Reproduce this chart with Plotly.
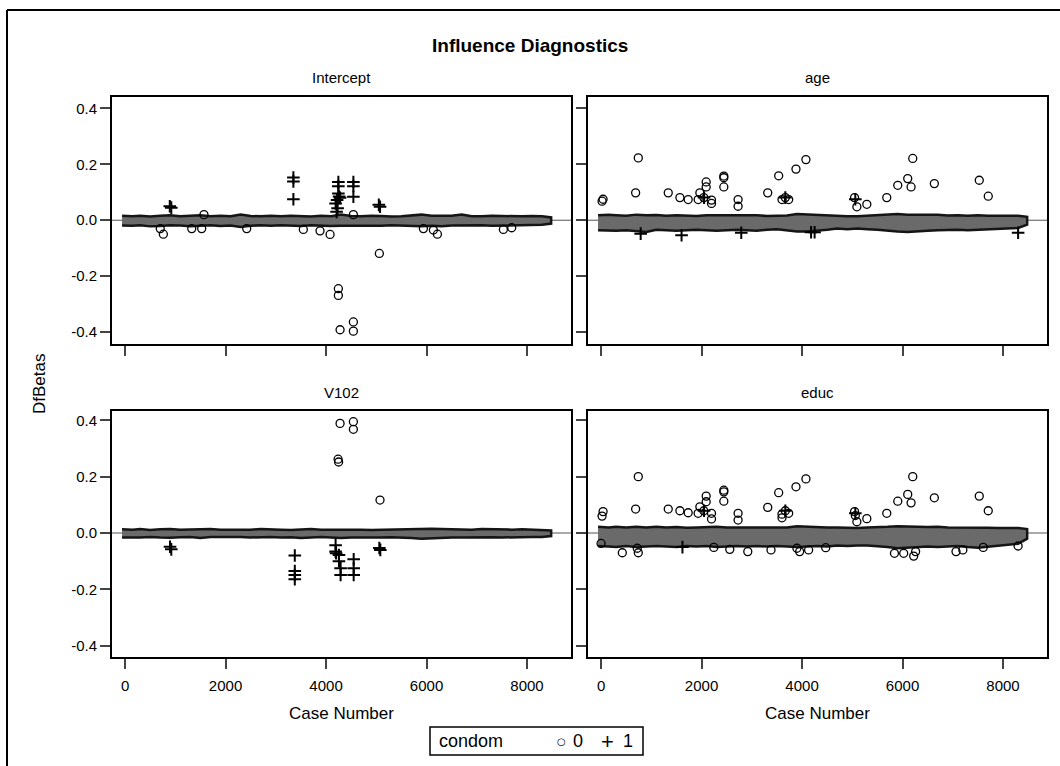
import plotly.graph_objects as go

# ---- DfBetas by case number, split by condom use (0 = open circle, 1 = plus) ----

# Case-number knots for the envelope of the dense cloud of cases near zero
band_x = [-60, 150, 300, 500, 700, 900, 1100, 1300, 1500, 1700, 1900, 2100, 2300, 2500, 2700, 2900,
          3100, 3300, 3500, 3700, 3900, 4100, 4300, 4500, 4700, 4900, 5100, 5300, 5500, 5700,
          5900, 6100, 6300, 6500, 6700, 6900, 7100, 7300, 7500, 7700, 7900, 8100, 8300, 8480]

intercept_hi = [0.016, 0.014, 0.016, 0.013, 0.016, 0.018, 0.014, 0.016, 0.018, 0.014, 0.016, 0.014, 0.020, 0.015,
                0.014, 0.016, 0.014, 0.016, 0.015, 0.013, 0.016, 0.014, 0.020, 0.015, 0.014, 0.016, 0.015, 0.013,
                0.014, 0.016, 0.020, 0.016, 0.015, 0.016, 0.020, 0.014, 0.014, 0.016, 0.015, 0.014, 0.014, 0.015,
                0.014, 0.010]
intercept_lo = [-0.019, -0.020, -0.018, -0.022, -0.021, -0.018, -0.019, -0.022, -0.020, -0.018, -0.021, -0.019,
                -0.024, -0.020, -0.018, -0.020, -0.018, -0.020, -0.021, -0.018, -0.019, -0.021, -0.020, -0.018,
                -0.019, -0.020, -0.020, -0.018, -0.019, -0.021, -0.022, -0.020, -0.022, -0.019, -0.020, -0.018,
                -0.018, -0.020, -0.020, -0.018, -0.018, -0.017, -0.016, -0.012]

age_hi = [0.018, 0.020, 0.018, 0.016, 0.020, 0.018, 0.019, 0.016, 0.018, 0.017, 0.015, 0.018, 0.018, 0.016,
          0.016, 0.018, 0.018, 0.015, 0.016, 0.017, 0.022, 0.020, 0.020, 0.016, 0.016, 0.014, 0.014, 0.016,
          0.016, 0.018, 0.022, 0.020, 0.020, 0.018, 0.020, 0.017, 0.018, 0.016, 0.018, 0.016, 0.016, 0.015,
          0.016, 0.012]
age_lo = [-0.036, -0.038, -0.038, -0.036, -0.040, -0.042, -0.034, -0.036, -0.038, -0.036, -0.034, -0.036,
          -0.038, -0.036, -0.034, -0.036, -0.038, -0.034, -0.032, -0.036, -0.040, -0.040, -0.038, -0.034,
          -0.030, -0.032, -0.030, -0.032, -0.034, -0.036, -0.040, -0.042, -0.040, -0.038, -0.036, -0.034,
          -0.034, -0.036, -0.036, -0.034, -0.030, -0.030, -0.028, -0.016]

v102_hi = [0.013, 0.012, 0.014, 0.011, 0.013, 0.014, 0.012, 0.013, 0.012, 0.014, 0.012, 0.012, 0.011, 0.012,
           0.014, 0.012, 0.012, 0.011, 0.013, 0.014, 0.012, 0.012, 0.014, 0.014, 0.012, 0.011, 0.012, 0.011,
           0.012, 0.014, 0.016, 0.015, 0.014, 0.013, 0.014, 0.012, 0.014, 0.013, 0.014, 0.012, 0.013, 0.012,
           0.012, 0.009]
v102_lo = [-0.016, -0.015, -0.016, -0.014, -0.016, -0.017, -0.015, -0.014, -0.018, -0.014, -0.015, -0.014,
           -0.014, -0.016, -0.015, -0.014, -0.016, -0.015, -0.018, -0.016, -0.014, -0.016, -0.018, -0.016,
           -0.015, -0.016, -0.016, -0.015, -0.016, -0.018, -0.020, -0.018, -0.018, -0.016, -0.016, -0.015,
           -0.016, -0.015, -0.016, -0.014, -0.015, -0.014, -0.014, -0.011]

educ_hi = [0.022, 0.020, 0.022, 0.020, 0.022, 0.020, 0.022, 0.020, 0.021, 0.019, 0.020, 0.022, 0.022, 0.020,
           0.020, 0.021, 0.022, 0.020, 0.022, 0.020, 0.024, 0.022, 0.022, 0.020, 0.020, 0.018, 0.018, 0.020,
           0.020, 0.022, 0.024, 0.022, 0.022, 0.021, 0.022, 0.020, 0.020, 0.021, 0.020, 0.019, 0.018, 0.019,
           0.018, 0.014]
educ_lo = [-0.046, -0.048, -0.050, -0.046, -0.050, -0.048, -0.046, -0.048, -0.050, -0.046, -0.048, -0.046,
           -0.050, -0.048, -0.046, -0.048, -0.046, -0.048, -0.046, -0.048, -0.050, -0.048, -0.046, -0.048,
           -0.044, -0.046, -0.044, -0.044, -0.046, -0.050, -0.054, -0.052, -0.050, -0.048, -0.050, -0.048,
           -0.046, -0.050, -0.052, -0.048, -0.044, -0.042, -0.038, -0.020]

# Individual cases standing out from the cloud
intercept_c0_x = [700, 762, 1327, 1525, 1570, 2421, 3548, 3880, 4080, 4245, 4245, 4279,
                  4544, 4544, 4544, 5061, 5937, 6136, 6216, 7529, 7695]
intercept_c0_y = [-0.030, -0.050, -0.030, -0.030, 0.020, -0.030, -0.033, -0.038, -0.051, -0.245, -0.269, -0.392,
                  -0.364, -0.397, 0.020, -0.119, -0.030, -0.035, -0.050, -0.033, -0.027]
intercept_c1_x = [890, 920, 3350, 3350, 3350, 4190, 4220, 4245, 4245, 4245, 4260, 4280,
                  4230, 4210, 4544, 4544, 4544, 5050, 5075]
intercept_c1_y = [0.050, 0.045, 0.153, 0.139, 0.075, 0.060, 0.072, 0.137, 0.122, 0.096, 0.085, 0.080,
                  0.043, 0.030, 0.137, 0.122, 0.084, 0.055, 0.048]

age_c0_x = [20, 40, 741, 688, 1337, 1569, 1734, 1932, 1966, 2045, 2092, 2092, 2198, 2198,
            2443, 2443, 2443, 2727, 2727, 3317, 3535, 3601, 3667, 3734, 3879, 4077, 5045,
            5091, 5289, 5686, 5905, 6103, 6170, 6203, 6633, 7527, 7706]
age_c0_y = [0.068, 0.075, 0.223, 0.098, 0.098, 0.081, 0.074, 0.074, 0.098, 0.081, 0.137, 0.119, 0.072, 0.060,
            0.158, 0.152, 0.119, 0.074, 0.050, 0.098, 0.159, 0.074, 0.081, 0.074, 0.183, 0.217, 0.081,
            0.048, 0.057, 0.081, 0.125, 0.149, 0.119, 0.221, 0.131, 0.143, 0.086]
age_c1_x = [788, 1602, 8300, 2050, 3667, 5060, 2790, 4180, 4250]
age_c1_y = [-0.048, -0.054, -0.045, 0.081, 0.081, 0.075, -0.045, -0.043, -0.043]

v102_c0_x = [4279, 4240, 4250, 4544, 4544, 5074]
v102_c0_y = [0.389, 0.262, 0.252, 0.395, 0.368, 0.117]
v102_c1_x = [895, 920, 3378, 3378, 3378, 3378, 4190, 4190, 4200, 4257, 4257, 4290, 4290,
             4550, 4550, 4550, 5060, 5080]
v102_c1_y = [-0.049, -0.058, -0.080, -0.135, -0.149, -0.164, -0.043, -0.066, -0.072, -0.078, -0.100, -0.125, -0.149,
             -0.093, -0.125, -0.149, -0.053, -0.060]

educ_c0_x = [20, 40, 741, 688, 1337, 1569, 1734, 1932, 1966, 2045, 2092, 2092, 2198, 2198,
             2443, 2443, 2443, 2727, 2727, 3317, 3535, 3601, 3601, 3667, 3734, 3879, 4077, 5045,
             5060, 5091, 5289, 5686, 5905, 6103, 6170, 6203, 6633, 7527, 7706,
             0, 423, 741, 720, 2244, 2562, 2920, 3382, 3898, 3952, 4131, 4471, 5839, 6023,
             6222, 6260, 7064, 7200, 7606, 8300]
educ_c0_y = [0.060, 0.076, 0.200, 0.085, 0.085, 0.079, 0.072, 0.070, 0.093, 0.079, 0.131, 0.111, 0.070, 0.050,
             0.152, 0.146, 0.113, 0.070, 0.046, 0.091, 0.143, 0.067, 0.054, 0.079, 0.070, 0.164, 0.192, 0.076,
             0.062, 0.040, 0.051, 0.070, 0.113, 0.137, 0.107, 0.200, 0.125, 0.131, 0.079,
             -0.037, -0.070, -0.070, -0.054, -0.051, -0.058, -0.066, -0.060, -0.054, -0.066, -0.060, -0.052, -0.072, -0.072,
             -0.082, -0.066, -0.066, -0.060, -0.051, -0.046]
educ_c1_x = [1620, 2050, 3667, 5060]
educ_c1_y = [-0.050, 0.079, 0.079, 0.070]

panel_titles = ["Intercept", "age", "V102", "educ"]
x_ticks = [0, 2000, 4000, 6000, 8000]
x_tick_text = ["0", "2000", "4000", "6000", "8000"]
y_ticks = [-0.4, -0.2, 0.0, 0.2, 0.4]
y_tick_text = ["-0.4", "-0.2", "0.0", "0.2", "0.4"]
legend_title = "condom"
legend_levels = ["0", "1"]

panels = [
    (intercept_hi, intercept_lo, intercept_c0_x, intercept_c0_y, intercept_c1_x, intercept_c1_y),
    (age_hi, age_lo, age_c0_x, age_c0_y, age_c1_x, age_c1_y),
    (v102_hi, v102_lo, v102_c0_x, v102_c0_y, v102_c1_x, v102_c1_y),
    (educ_hi, educ_lo, educ_c0_x, educ_c0_y, educ_c1_x, educ_c1_y),
]

W, H = 1060, 766
FONT = "Liberation Sans, Arial, sans-serif"

def px_x(p):
    return p / W

def px_y(p):
    return 1 - p / H

col_dom = [[px_x(112), px_x(571)], [px_x(588), px_x(1047)]]
row_dom = [[px_y(344), px_y(97)], [px_y(657), px_y(411)]]
row_range = [[-0.443, 0.441], [-0.44, 0.433]]

fig = go.Figure()
layout = dict(
    width=W, height=H,
    margin=dict(l=0, r=0, t=0, b=0),
    paper_bgcolor="white", plot_bgcolor="white",
    font=dict(family=FONT, size=15, color="black"),
    showlegend=False,
)

annotations = []
shapes = []

for i, (hi, lo, c0x, c0y, c1x, c1y) in enumerate(panels):
    r, c = divmod(i, 2)
    n = "" if i == 0 else str(i + 1)
    xa, ya = "x" + n, "y" + n

    # dense cloud of unremarkable cases, drawn as its envelope
    fig.add_trace(go.Scatter(
        x=band_x + band_x[::-1], y=hi + lo[::-1],
        mode="lines", fill="toself", fillcolor="#6a6a6a",
        line=dict(color="#151515", width=2.5), xaxis=xa, yaxis=ya,
        hoverinfo="skip"))
    fig.add_trace(go.Scatter(
        x=c0x, y=c0y, mode="markers", name=legend_levels[0],
        marker=dict(symbol="circle-open", size=8, color="black", line=dict(width=1.3)),
        xaxis=xa, yaxis=ya))
    fig.add_trace(go.Scatter(
        x=c1x, y=c1y, mode="markers", name=legend_levels[1],
        marker=dict(symbol="cross-thin-open", size=9, color="black", line=dict(width=2, color="black")),
        xaxis=xa, yaxis=ya))

    layout["xaxis" + n] = dict(
        domain=col_dom[c], range=[-260, 8875], anchor=ya,
        tickvals=x_ticks, ticktext=x_tick_text, ticks="outside", ticklen=10, tickwidth=1.5,
        ticklabelstandoff=4,
        showticklabels=(r == 1), showgrid=False, zeroline=False,
        showline=True, linecolor="black", linewidth=2, mirror=True,
        tickfont=dict(size=15))
    layout["yaxis" + n] = dict(
        domain=row_dom[r], range=row_range[r], anchor=xa,
        tickvals=y_ticks, ticktext=y_tick_text, ticks="outside", ticklen=10, tickwidth=1.5,
        showticklabels=(c == 0), showgrid=False, zeroline=False,
        showline=True, linecolor="black", linewidth=2, mirror=True,
        tickfont=dict(size=15))

    # reference line at zero
    shapes.append(dict(type="line", xref=xa + " domain", yref=ya, x0=0, x1=1, y0=0, y1=0,
                       line=dict(color="#555555", width=1), layer="below"))

    # panel heading
    annotations.append(dict(
        text=panel_titles[i], xref="paper", yref="paper",
        x=sum(col_dom[c]) / 2, y=px_y(77 if r == 0 else 392),
        showarrow=False, font=dict(size=15), xanchor="center", yanchor="middle"))

for c in range(2):
    annotations.append(dict(
        text="Case Number", xref="paper", yref="paper",
        x=sum(col_dom[c]) / 2, y=px_y(713), showarrow=False,
        font=dict(size=17), xanchor="center", yanchor="middle"))

annotations.append(dict(
    text="DfBetas", xref="paper", yref="paper", x=px_x(40), y=px_y(384),
    textangle=-90, showarrow=False, font=dict(size=17), xanchor="center", yanchor="middle"))

annotations.append(dict(
    text="<b>Influence Diagnostics</b>", xref="paper", yref="paper",
    x=px_x(530), y=px_y(45), showarrow=False, font=dict(size=19),
    xanchor="center", yanchor="middle"))

# legend box: "condom  ○ 0  + 1"
shapes.append(dict(type="rect", xref="paper", yref="paper",
                   x0=px_x(430), x1=px_x(643), y0=px_y(755), y1=px_y(727),
                   line=dict(color="black", width=1.5), fillcolor="white"))
legend_items = [
    (legend_title, 437, "left", 18, None),
    ("\u25cb", 561, "center", 10, "DejaVu Sans"),
    (legend_levels[0], 578, "center", 18, None),
    ("+", 607, "center", 22, None),
    (legend_levels[1], 628, "center", 18, None),
]
for text, xp, anchor, size, fam in legend_items:
    f = dict(size=size)
    if fam:
        f["family"] = fam
    annotations.append(dict(
        text=text, xref="paper", yref="paper", x=px_x(xp), y=px_y(741),
        showarrow=False, font=f, xanchor=anchor, yanchor="middle"))

# outer frame (left and top edges fall inside the canvas)
shapes.append(dict(type="line", xref="paper", yref="paper",
                   x0=px_x(7), x1=px_x(7), y0=px_y(10), y1=-0.05, line=dict(color="black", width=2)))
shapes.append(dict(type="line", xref="paper", yref="paper",
                   x0=px_x(7), x1=1.05, y0=px_y(10), y1=px_y(10), line=dict(color="black", width=2)))

layout["annotations"] = annotations
layout["shapes"] = shapes

fig.update_layout(**layout)
fig.write_html("out.html")
